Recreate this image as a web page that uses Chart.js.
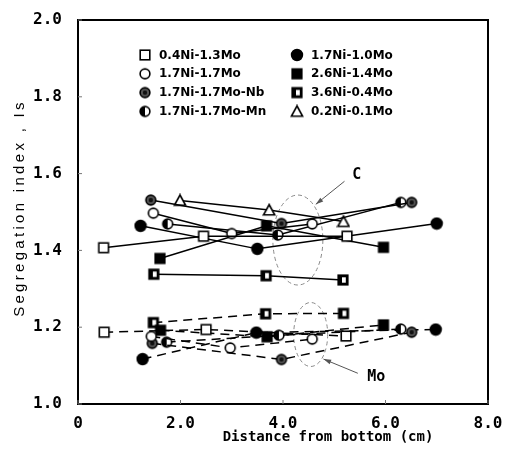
<!DOCTYPE html>
<html>
<head>
<meta charset="utf-8">
<script src="https://cdn.jsdelivr.net/npm/chart.js@4.4.0/dist/chart.umd.min.js"></script>
<style>
  html, body { margin: 0; background: #fff; }
</style>
</head>
<body>
<canvas id="chart" width="510" height="453"></canvas>
<script>
// series, in legend order
const seriesNames = ['0.4Ni-1.3Mo', '1.7Ni-1.7Mo', '1.7Ni-1.7Mo-Nb', '1.7Ni-1.7Mo-Mn',
                     '1.7Ni-1.0Mo', '2.6Ni-1.4Mo', '3.6Ni-0.4Mo', '0.2Ni-0.1Mo'];
const markerKinds = ['openSquare', 'openCircle', 'nbCircle', 'halfCircle',
                     'filledCircle', 'filledSquare', 'halfSquare', 'triangle'];

// carbon segregation (solid lines)
const distC = [
    [0.5, 2.45, 5.25],
    [1.47, 3.0, 4.57],
    [1.42, 3.97, 6.51],
    [1.75, 3.9, 6.3],
    [1.22, 3.5, 7.0],
    [1.6, 3.68, 5.96],
    [1.48, 3.67, 5.17],
    [1.99, 3.73, 5.18],
];
const indexC = [
    [1.407, 1.437, 1.437],
    [1.497, 1.444, 1.469],
    [1.531, 1.47, 1.525],
    [1.469, 1.44, 1.525],
    [1.464, 1.404, 1.47],
    [1.379, 1.464, 1.408],
    [1.338, 1.334, 1.323],
    [1.53, 1.505, 1.475],
];

// molybdenum segregation (dashed lines), no Mo data for 0.2Ni-0.1Mo
const distMo = [
    [0.51, 2.5, 5.23],
    [1.43, 2.97, 4.57],
    [1.45, 3.97, 6.51],
    [1.73, 3.92, 6.3],
    [1.26, 3.48, 6.98],
    [1.61, 3.69, 5.96],
    [1.47, 3.66, 5.18],
    null,
];
const indexMo = [
    [1.187, 1.194, 1.177],
    [1.176, 1.146, 1.169],
    [1.158, 1.116, 1.187],
    [1.161, 1.179, 1.195],
    [1.117, 1.186, 1.194],
    [1.192, 1.175, 1.206],
    [1.212, 1.235, 1.236],
    null,
];

const xTicks = [0, 2, 4, 6, 8];
const yTicks = [1.0, 1.2, 1.4, 1.6, 1.8, 2.0];

function makeMarker(kind) {
    const c = document.createElement('canvas');
    c.width = 14;
    c.height = 14;
    const g = c.getContext('2d');
    const m = 7, r = 4.9;
    g.lineWidth = 1.6;
    g.strokeStyle = '#000';
    g.fillStyle = '#fff';
    if (kind.indexOf('Circle') >= 0) {
        const rr = kind === 'filledCircle' ? 5.4 : r;
        g.beginPath();
        g.arc(m, m, rr, 0, Math.PI * 2);
        if (kind === 'filledCircle') g.fillStyle = '#000';
        if (kind === 'nbCircle') g.fillStyle = '#555';
        g.fill();
        if (kind === 'halfCircle') {
            g.beginPath();
            g.arc(m, m, r, Math.PI / 2, Math.PI * 1.5);
            g.fillStyle = '#000';
            g.fill();
        }
        if (kind === 'nbCircle') {
            g.beginPath();
            g.arc(m, m, 2.2, 0, Math.PI * 2);
            g.fillStyle = '#111';
            g.fill();
        }
        g.beginPath();
        g.arc(m, m, rr, 0, Math.PI * 2);
        g.stroke();
    } else if (kind === 'triangle') {
        g.beginPath();
        g.moveTo(7, 1.5);
        g.lineTo(12.6, 11.8);
        g.lineTo(1.4, 11.8);
        g.closePath();
        g.fill();
        g.stroke();
    } else {
        g.fillStyle = kind === 'openSquare' ? '#fff' : '#000';
        g.fillRect(2.2, 2.2, 9.6, 9.6);
        if (kind === 'halfSquare') {
            g.fillStyle = '#fff';
            g.fillRect(6, 4.3, 3.8, 5.4);
        }
        g.strokeRect(2.2, 2.2, 9.6, 9.6);
    }
    return c;
}

const markers = markerKinds.map(makeMarker);

const datasets = [];
seriesNames.forEach(function (name, i) {
    datasets.push({
        label: name + ' C',
        data: distC[i].map(function (x, j) { return { x: x, y: indexC[i][j] }; }),
        showLine: true,
        borderColor: '#000',
        borderWidth: 1.5,
        pointStyle: markers[i],
    });
});
seriesNames.forEach(function (name, i) {
    if (!distMo[i]) return;
    datasets.push({
        label: name + ' Mo',
        data: distMo[i].map(function (x, j) { return { x: x, y: indexMo[i][j] }; }),
        showLine: true,
        borderColor: '#000',
        borderWidth: 1.5,
        borderDash: [9, 6],
        pointStyle: markers[i],
    });
});

const extras = {
    id: 'extras',
    beforeDatasetsDraw: function (chart) {
        const ctx = chart.ctx;
        const xs = chart.scales.x, ys = chart.scales.y;
        const px = function (v) { return xs.getPixelForValue(v); };
        const py = function (v) { return ys.getPixelForValue(v); };
        ctx.save();
        // dashed ellipses around the 4 cm samples
        ctx.strokeStyle = '#8a8a8a';
        ctx.lineWidth = 1;
        ctx.setLineDash([4, 3]);
        ctx.beginPath();
        ctx.ellipse(px(4.29), py(1.427), 25, 45, 0, 0, Math.PI * 2);
        ctx.stroke();
        ctx.beginPath();
        ctx.ellipse(px(4.54), py(1.181), 17, 32, 0, 0, Math.PI * 2);
        ctx.stroke();
        ctx.setLineDash([]);
        // arrows
        function arrow(x1, y1, x2, y2) {
            const a = Math.atan2(y2 - y1, x2 - x1);
            ctx.beginPath();
            ctx.moveTo(x1, y1);
            ctx.lineTo(x2, y2);
            ctx.stroke();
            ctx.beginPath();
            ctx.moveTo(x2, y2);
            ctx.lineTo(x2 - 8 * Math.cos(a - 0.3), y2 - 8 * Math.sin(a - 0.3));
            ctx.lineTo(x2 - 8 * Math.cos(a + 0.3), y2 - 8 * Math.sin(a + 0.3));
            ctx.closePath();
            ctx.fill();
        }
        ctx.strokeStyle = '#555';
        ctx.fillStyle = '#555';
        arrow(px(5.2), py(1.58), px(4.64), py(1.52));
        arrow(px(5.46), py(1.08), px(4.79), py(1.117));
        ctx.restore();
    },
    afterDatasetsDraw: function (chart) {
        const ctx = chart.ctx;
        const a = chart.chartArea;
        const xs = chart.scales.x, ys = chart.scales.y;
        ctx.save();
        // frame
        ctx.strokeStyle = '#000';
        ctx.lineWidth = 2;
        ctx.strokeRect(a.left, a.top, a.right - a.left, a.bottom - a.top);
        // small inward ticks
        ctx.lineWidth = 1;
        ctx.strokeStyle = '#777';
        yTicks.forEach(function (v) {
            const y = ys.getPixelForValue(v);
            ctx.beginPath();
            ctx.moveTo(a.left, y);
            ctx.lineTo(a.left + 4, y);
            ctx.stroke();
        });
        xTicks.forEach(function (v) {
            const x = xs.getPixelForValue(v);
            ctx.beginPath();
            ctx.moveTo(x, a.bottom);
            ctx.lineTo(x, a.bottom - 4);
            ctx.stroke();
        });
        // C / Mo labels
        ctx.fillStyle = '#000';
        ctx.font = 'bold 15px "DejaVu Sans Mono"';
        ctx.textAlign = 'center';
        ctx.textBaseline = 'middle';
        ctx.fillText('C', xs.getPixelForValue(5.44), ys.getPixelForValue(1.596));
        ctx.fillText('Mo', xs.getPixelForValue(5.82), ys.getPixelForValue(1.071));
        // legend
        ctx.font = 'bold 12px "DejaVu Sans"';
        ctx.textAlign = 'left';
        seriesNames.forEach(function (name, i) {
            const col = i < 4 ? 0 : 1;
            const row = i % 4;
            const mx = col === 0 ? 145 : 297;
            const my = 55 + row * 18.8;
            ctx.drawImage(markers[i], mx - 7, my - 7);
            ctx.fillText(name, mx + 14, my + 0.5);
        });
        // axis titles
        ctx.font = 'bold 14px "DejaVu Sans Mono"';
        ctx.textAlign = 'center';
        ctx.fillText('Distance from bottom (cm)', 328, 437);
        ctx.translate(20, 208);
        ctx.rotate(-Math.PI / 2);
        ctx.font = '15px "Liberation Sans"';
        ctx.letterSpacing = '3.3px';
        ctx.fillText('Segregation index , Is', 0, 0);
        ctx.restore();
    }
};

const config = {
    type: 'scatter',
    data: { datasets: datasets },
    options: {
        responsive: false,
        animation: false,
        layout: { padding: { left: 0, top: 20, right: 22, bottom: 0 } },
        plugins: {
            legend: { display: false },
            tooltip: { enabled: false },
        },
        scales: {
            x: {
                type: 'linear',
                min: 0,
                max: 8,
                afterFit: function (scale) { scale.height = 49; },
                grid: { display: false },
                border: { display: false },
                ticks: {
                    stepSize: 2,
                    padding: 2,
                    color: '#000',
                    font: { family: 'DejaVu Sans Mono', size: 16, weight: 'bold' },
                    callback: function (v) { return v === 0 ? '0' : v.toFixed(1); },
                },
            },
            y: {
                type: 'linear',
                min: 1,
                max: 2,
                afterFit: function (scale) { scale.width = 78; },
                grid: { display: false },
                border: { display: false },
                ticks: {
                    stepSize: 0.2,
                    padding: 8,
                    color: '#000',
                    font: { family: 'DejaVu Sans Mono', size: 16, weight: 'bold' },
                    callback: function (v) { return v.toFixed(1); },
                },
            },
        },
    },
    plugins: [extras],
};

const segregationChart = new Chart(document.getElementById('chart'), config);
</script>
</body>
</html>
